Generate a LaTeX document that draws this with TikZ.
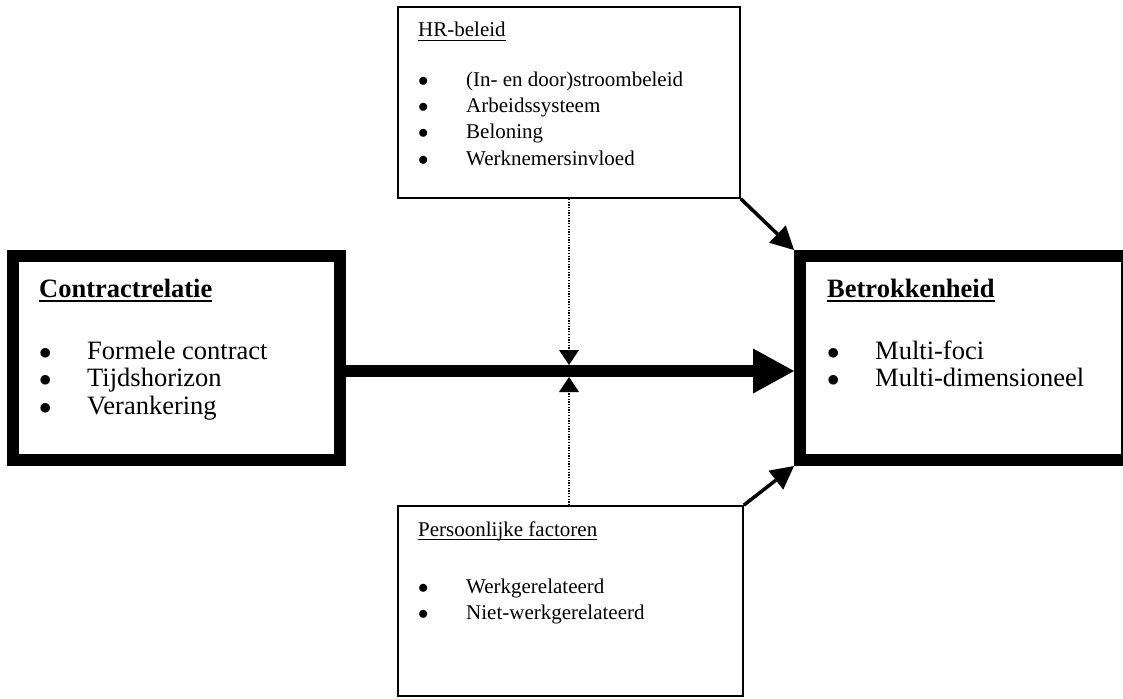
\documentclass[tikz,border=0pt]{standalone}
\usepackage{fontspec}
\setmainfont{Liberation Serif}
\usetikzlibrary{arrows.meta, positioning, calc}

\newcommand{\grootfont}{\fontsize{26.5}{27.5}\selectfont}
\newcommand{\kleinfont}{\fontsize{21}{26}\selectfont}
\newcommand{\onderlijn}[3]{\setbox0\hbox{#3}\rlap{\rule[#1]{\wd0}{#2}}\box0}
\newcommand{\punt}{\makebox[48pt][l]{$\bullet$}}

\tikzstyle{dikbox} = [rectangle, draw, line width=12pt, inner sep=0pt, minimum width=327pt, minimum height=204pt]
\tikzstyle{dunbox} = [rectangle, draw, line width=1.6pt, inner sep=0pt]
\tikzstyle{tekst} = [inner sep=0pt, anchor=base west]
\tikzstyle{pijl} = [line width=3.5pt, -{Triangle[length=23pt, width=24pt, line width=0pt]}]
\tikzstyle{hoofdpijl} = [line width=12pt, -{Triangle[length=41pt, width=45pt, line width=0pt]}]
\tikzstyle{stippel} = [line width=1.3pt, dash pattern=on 1.3pt off 1.4pt, -{Triangle[length=15pt, width=20pt, line width=0pt]}]

\begin{document}
\begin{tikzpicture}[x=1pt, y=-1pt]
    \useasboundingbox (0,0) rectangle (1123,698);

    % de vier blokken
    \node (cr) [dikbox] at (176.5,358) {};
    \node (bh) [dikbox] at (963.5,358) {};
    \node (hr) [dunbox, minimum width=342pt, minimum height=191pt] at (569,102.5) {};
    \node (pf) [dunbox, minimum width=345pt, minimum height=190pt] at (570.5,601) {};

    % teksten
    \node (crtitel) [tekst, font=\grootfont\bfseries] at (39,297) {\onderlijn{-5pt}{2.2pt}{Contractrelatie}};
    \node (crlijst) [tekst, font=\grootfont] at (39,359) {\begin{tabular}[t]{@{}l@{}}
        \punt Formele contract\\ \punt Tijdshorizon\\ \punt Verankering\end{tabular}};
    \node (bhtitel) [tekst, font=\grootfont\bfseries] at (827,297) {\onderlijn{-5pt}{2.2pt}{Betrokkenheid}};
    \node (bhlijst) [tekst, font=\grootfont] at (827,359) {\begin{tabular}[t]{@{}l@{}}
        \punt Multi-foci\\ \punt Multi-dimensioneel\end{tabular}};
    \node (hrtitel) [tekst, font=\kleinfont] at (418,37) {\onderlijn{-4pt}{1.4pt}{HR-beleid}};
    \node (hrlijst) [tekst, font=\kleinfont] at (418,87) {\begin{tabular}[t]{@{}l@{}}
        \punt (In- en door)stroombeleid\\ \punt Arbeidssysteem\\ \punt Beloning\\ \punt Werknemersinvloed\end{tabular}};
    \node (pftitel) [tekst, font=\kleinfont] at (418,536) {\onderlijn{-4pt}{1.4pt}{Persoonlijke factoren}};
    \node (pflijst) [tekst, font=\kleinfont] at (418,593) {\begin{tabular}[t]{@{}l@{}}
        \punt Werkgerelateerd\\ \punt Niet-werkgerelateerd\end{tabular}};

    % pijlen
    \coordinate (ms) at ([yshift=-13pt]cr.east);
    \coordinate (me) at ([yshift=-13pt]bh.west);
    \coordinate (xt) at ($(ms -| hr.south)+(0,-6)$);
    \coordinate (xb) at ($(ms -| hr.south)+(0,6)$);
    \draw [hoofdpijl] (ms) -- (me);
    \draw [stippel] (hr.south) -- (xt);
    \draw [stippel] (pf.north -| hr.south) -- (xb);
    \draw [pijl] (hr.south east) -- (bh.north west);
    \draw [pijl] (pf.north east) -- (bh.south west);
\end{tikzpicture}
\end{document}
